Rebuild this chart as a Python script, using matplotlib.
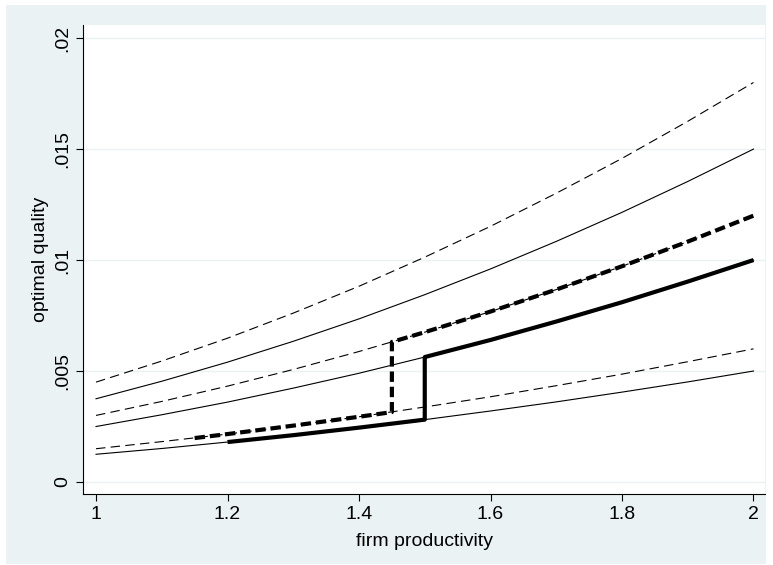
import matplotlib.pyplot as plt
from matplotlib.patches import Rectangle

plt.rcParams['font.family'] = ['Liberation Sans', 'DejaVu Sans']
plt.rcParams['lines.scale_dashes'] = False

# firm productivity grid
phi = [1.0, 1.1, 1.2, 1.3, 1.4, 1.5, 1.6, 1.7, 1.8, 1.9, 2.0]

# thin reference curves (solid / dashed pairs)
solid_low = [0.00125, 0.00151, 0.0018, 0.00211, 0.00245, 0.00281, 0.0032, 0.00361, 0.00405, 0.00451, 0.005]
dash_low = [0.0015, 0.00182, 0.00216, 0.00254, 0.00294, 0.00338, 0.00384, 0.00434, 0.00486, 0.00542, 0.006]
solid_mid = [0.0025, 0.00303, 0.0036, 0.00423, 0.0049, 0.00563, 0.0064, 0.00723, 0.0081, 0.00903, 0.01]
dash_mid = [0.003, 0.00363, 0.00432, 0.00507, 0.00588, 0.00675, 0.00768, 0.00867, 0.00972, 0.01083, 0.012]
solid_high = [0.00375, 0.00454, 0.0054, 0.00634, 0.00735, 0.00844, 0.0096, 0.01084, 0.01215, 0.01354, 0.015]
dash_high = [0.0045, 0.00545, 0.00648, 0.00761, 0.00882, 0.01013, 0.01152, 0.01301, 0.01458, 0.01625, 0.018]

# thick optimal paths with their jumps
opt_solid_x = [1.2, 1.3, 1.4, 1.5, 1.5, 1.6, 1.7, 1.8, 1.9, 2.0]
opt_solid_y = [0.0018, 0.00211, 0.00245, 0.00281, 0.00563, 0.0064, 0.00723, 0.0081, 0.00903, 0.01]
opt_dash_x = [1.15, 1.2, 1.3, 1.4, 1.45, 1.45, 1.5, 1.6, 1.7, 1.8, 1.9, 2.0]
opt_dash_y = [0.00198, 0.00216, 0.00254, 0.00294, 0.00315, 0.00631, 0.00675, 0.00768, 0.00867, 0.00972, 0.01083, 0.012]

xticks = [1, 1.2, 1.4, 1.6, 1.8, 2]
xlabels = ['1', '1.2', '1.4', '1.6', '1.8', '2']
yticks = [0, 0.005, 0.01, 0.015, 0.02]
ylabels = ['0', '.005', '.01', '.015', '.02']

bg = '#eaf2f3'
fig = plt.figure(figsize=(7.73, 5.65), dpi=100, facecolor='white')
fig.patches.append(Rectangle((6 / 773, 1 / 565), 760 / 773, 559 / 565,
                             transform=fig.transFigure, facecolor=bg, edgecolor='none', zorder=-1))
ax = fig.add_axes([83 / 773, 71 / 565, 682 / 773, 469 / 565])
ax.set_facecolor('white')

thin = 0.8
ax.plot(phi, solid_low, color='black', lw=thin)
ax.plot(phi, dash_low, color='black', lw=thin, dashes=(6.8, 3.8))
ax.plot(phi, solid_mid, color='black', lw=thin)
ax.plot(phi, dash_mid, color='black', lw=thin, dashes=(6.8, 3.8))
ax.plot(phi, solid_high, color='black', lw=thin)
ax.plot(phi, dash_high, color='black', lw=thin, dashes=(6.8, 3.8))

ax.plot(opt_solid_x, opt_solid_y, color='black', lw=3.0, solid_capstyle='butt')
ax.plot(opt_dash_x, opt_dash_y, color='black', lw=3.0, dashes=(7.5, 3.5), dash_capstyle='butt')

ax.set_xlim(0.9802, 2.0175)
ax.set_ylim(-0.00054, 0.02059)
ax.set_xticks(xticks)
ax.set_xticklabels(xlabels)
ax.set_yticks(yticks)
ax.set_yticklabels(ylabels, rotation=90, va='center')
ax.grid(axis='y', color=bg, lw=1.0)
ax.set_axisbelow(True)

for s in ['top', 'right']:
    ax.spines[s].set_visible(False)
for s in ['left', 'bottom']:
    ax.spines[s].set_linewidth(0.8)
ax.tick_params(direction='out', length=5, width=0.8, labelsize=14, pad=3.5, colors='black')

ax.set_xlabel('firm productivity', fontsize=14, labelpad=7)
ax.set_ylabel('optimal quality', fontsize=14, labelpad=4)

fig.savefig('out.png', dpi=100, facecolor='white')
